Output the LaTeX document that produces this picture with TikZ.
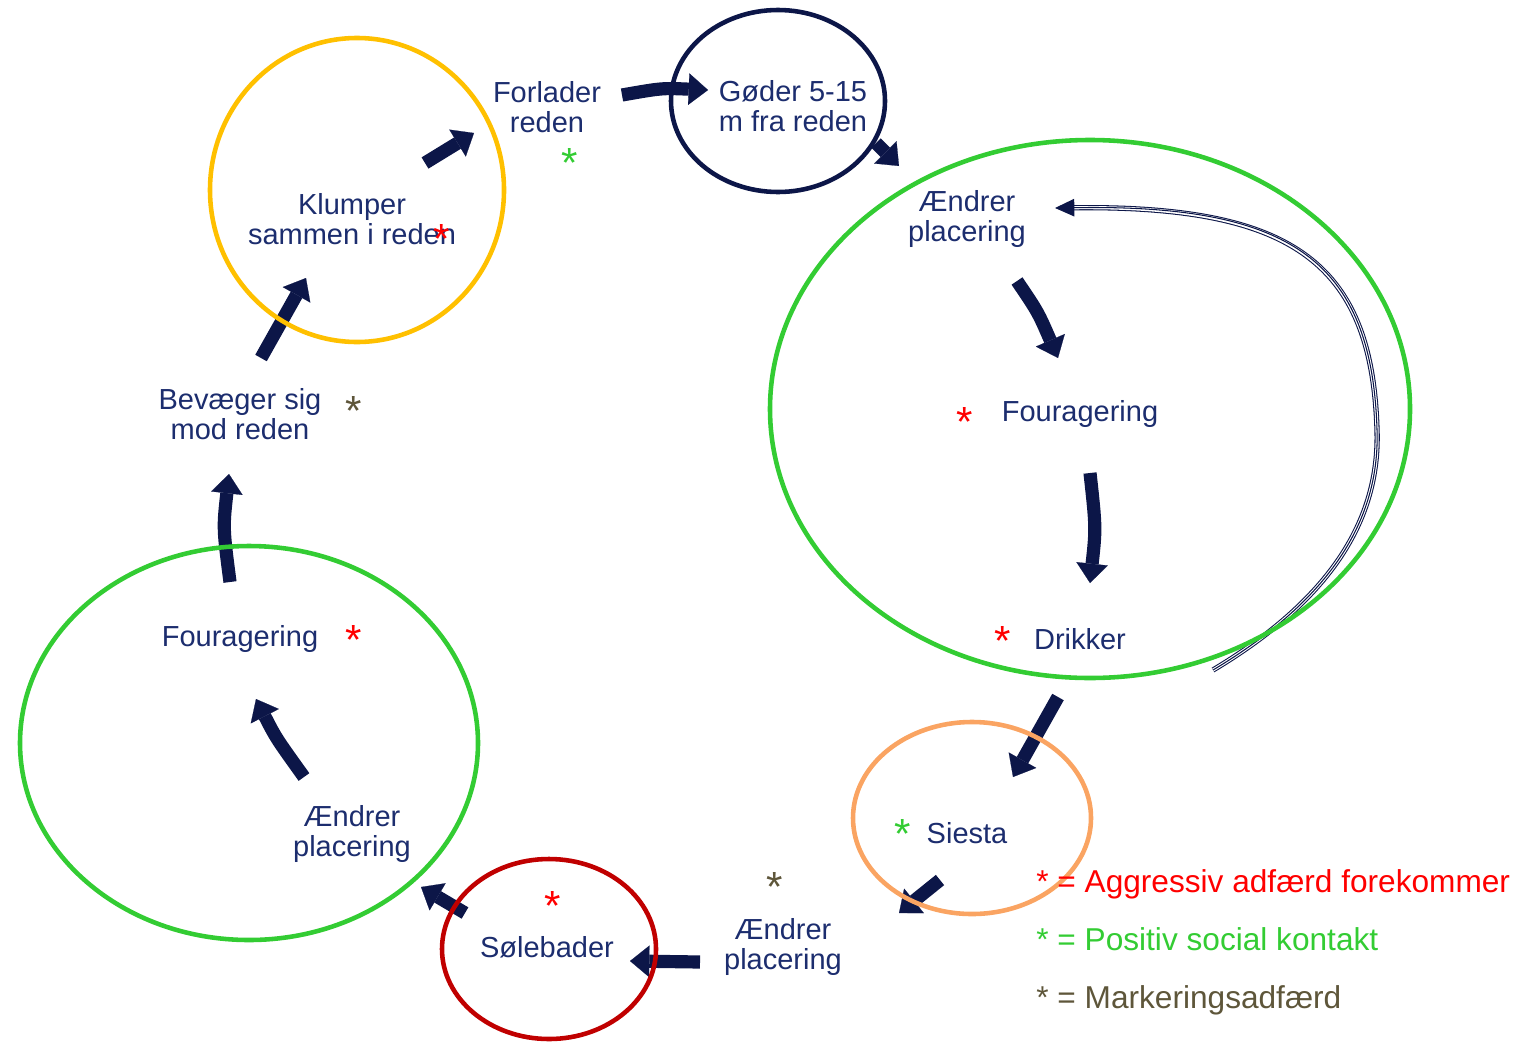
\documentclass[tikz,border=0pt]{standalone}
\usepackage{fontspec}
\setmainfont{Liberation Sans}
\usetikzlibrary{arrows.meta}

\definecolor{tekstblaa}{RGB}{28,45,110}
\definecolor{pilblaa}{RGB}{12,22,72}
\definecolor{groen}{RGB}{51,204,51}
\definecolor{gul}{RGB}{255,192,0}
\definecolor{orange}{RGB}{250,164,98}
\definecolor{moerkroed}{RGB}{192,0,0}
\definecolor{roed}{RGB}{255,0,0}
\definecolor{oliven}{RGB}{94,86,58}

\tikzset{
  tekst/.style={text=tekstblaa, align=center, inner sep=0pt, font=\fontsize{16.5}{17}\selectfont},
  forklaring/.style={inner sep=0pt, anchor=base west, font=\fontsize{18}{18}\selectfont},
  stjerne/.style={inner sep=0pt, font=\fontsize{24}{24}\selectfont},
  pil/.style={draw=pilblaa, line width=7.5pt, -{Triangle[width=18pt,length=11pt,line width=0.1pt]}},
  ring/.style={line width=2.6pt},
}

\begin{document}
\begin{tikzpicture}[x=0.02cm, y=-0.02cm]
    \useasboundingbox (0,0) rectangle (1523,1041);

    % Tekster
    \node[tekst] (forlader) at (547,107) {Forlader\\reden};
    \node[tekst] (goder) at (793,106) {Gøder 5-15\\m fra reden};
    \node[tekst] (klumper) at (352,219) {Klumper\\sammen i reden};
    \node[tekst] (aendrerA) at (967,219) {Ændrer\\placering};
    \node[tekst] (fourA) at (1080,414) {Fouragering};
    \node[tekst] (drikker) at (1080,639) {Drikker};
    \node[tekst] (siesta) at (967,833) {Siesta};
    \node[tekst] (aendrerB) at (783,947) {Ændrer\\placering};
    \node[tekst] (solebader) at (547,947) {Sølebader};
    \node[tekst] (aendrerC) at (352,834) {Ændrer\\placering};
    \node[tekst] (fourB) at (240,639) {Fouragering};
    \node[tekst] (bevaeger) at (240,414) {Bevæger sig\\mod reden};

    % Stjerner
    \node[stjerne, text=groen] (s1) at (570,163) {*};
    \node[stjerne, text=roed] (s2) at (442,239) {*};
    \node[stjerne, text=roed] (s3) at (965,422) {*};
    \node[stjerne, text=roed] (s4) at (1003,641) {*};
    \node[stjerne, text=groen] (s5) at (903,834) {*};
    \node[stjerne, text=oliven] (s6) at (775,887) {*};
    \node[stjerne, text=roed] (s7) at (553,906) {*};
    \node[stjerne, text=roed] (s8) at (354,640) {*};
    \node[stjerne, text=oliven] (s9) at (354,411) {*};

    % Pile
    \coordinate (p1a) at (425,163);  \coordinate (p1b) at (474,133);
    \coordinate (p2a) at (622,95);   \coordinate (p2c) at (662,88);  \coordinate (p2b) at (708,90);
    \coordinate (p3a) at (876,143);  \coordinate (p3b) at (899,166);
    \coordinate (p4a) at (1017,281); \coordinate (p4c) at (1038,312); \coordinate (p4b) at (1058,358);
    \coordinate (p5a) at (1090,473); \coordinate (p5c) at (1096,528); \coordinate (p5b) at (1090,583);
    \coordinate (p6a) at (1058,697); \coordinate (p6b) at (1013,777);
    \coordinate (p7a) at (940,880);  \coordinate (p7b) at (899,913);
    \coordinate (p8a) at (700,962);  \coordinate (p8b) at (630,961);
    \coordinate (p9a) at (465,913);  \coordinate (p9b) at (421,887);
    \coordinate (p10a) at (304,777); \coordinate (p10c) at (276,738); \coordinate (p10b) at (256,699);
    \coordinate (p11a) at (230,582); \coordinate (p11c) at (223,528); \coordinate (p11b) at (229,474);
    \coordinate (p12a) at (261,358); \coordinate (p12b) at (306,278);

    \draw[pil] (p1a) -- (p1b);
    \draw[pil] (p2a) .. controls (p2c) .. (p2b);
    \draw[pil] (p3a) -- (p3b);
    \draw[pil] (p4a) .. controls (p4c) .. (p4b);
    \draw[pil] (p5a) .. controls (p5c) .. (p5b);
    \draw[pil] (p6a) -- (p6b);
    \draw[pil] (p7a) -- (p7b);
    \draw[pil] (p8a) -- (p8b);
    \draw[pil] (p9a) -- (p9b);
    \draw[pil] (p10a) .. controls (p10c) .. (p10b);
    \draw[pil] (p11a) .. controls (p11c) .. (p11b);
    \draw[pil] (p12a) -- (p12b);

    % Tynd tilbagepil (tredobbelt linje)
    \coordinate (t1) at (1213,670);
    \coordinate (t2) at (1377,430);
    \coordinate (t3) at (1055,208);
    \draw[pilblaa, line width=3pt, shorten >=6pt] (t1) .. controls (1330,600) and (1380,520) .. (t2) .. controls (1372,260) and (1290,204) .. (t3);
    \draw[white, line width=1.8pt, shorten >=6pt] (t1) .. controls (1330,600) and (1380,520) .. (t2) .. controls (1372,260) and (1290,204) .. (t3);
    \draw[pilblaa, line width=0.6pt, -{Triangle[width=10pt,length=11pt]}] (t1) .. controls (1330,600) and (1380,520) .. (t2) .. controls (1372,260) and (1290,204) .. (t3);

    % Ringe
    \draw[ring, gul] (357,190) ellipse [x radius=147, y radius=152];
    \draw[ring, pilblaa] (778,101) ellipse [x radius=107, y radius=91];
    \draw[ring, groen] (1090,409) ellipse [x radius=320, y radius=269];
    \draw[ring, orange] (972,818) ellipse [x radius=119, y radius=96];
    \draw[ring, moerkroed] (549,949) ellipse [x radius=107, y radius=90];
    \draw[ring, groen] (249,743) ellipse [x radius=229, y radius=197];

    % Forklaring
    \node[forklaring, text=roed] (leg1) at (1036,892) {* = Aggressiv adfærd forekommer};
    \node[forklaring, text=groen] (leg2) at (1036,950) {* = Positiv social kontakt};
    \node[forklaring, text=oliven] (leg3) at (1036,1008) {* = Markeringsadfærd};
\end{tikzpicture}
\end{document}
